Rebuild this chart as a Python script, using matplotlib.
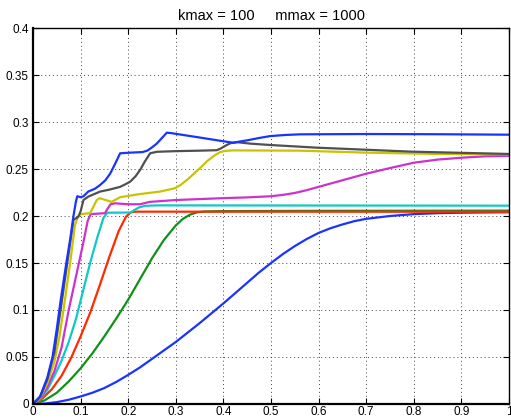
import matplotlib
matplotlib.use('Agg')
import matplotlib.pyplot as plt

plt.rcParams['font.family'] = ['Liberation Sans', 'DejaVu Sans']

# curves, slowest to fastest
x1 = [0, 0.025, 0.05, 0.075, 0.1, 0.125, 0.15, 0.175, 0.2, 0.225, 0.25, 0.275, 0.3, 0.325, 0.35, 0.375, 0.4,
      0.425, 0.45, 0.475, 0.5, 0.525, 0.55, 0.575, 0.6, 0.625, 0.65, 0.675, 0.7, 0.75, 0.8, 0.85, 0.9, 1.0]
y1 = [0, 0.0005, 0.002, 0.0045, 0.008, 0.012, 0.017, 0.0235, 0.031, 0.039, 0.048, 0.057, 0.066, 0.076, 0.086,
      0.0965, 0.107, 0.118, 0.129, 0.14, 0.150, 0.1595, 0.168, 0.1755, 0.182, 0.187, 0.191, 0.1945, 0.197,
      0.200, 0.202, 0.203, 0.2035, 0.204]

x2 = [0, 0.025, 0.05, 0.075, 0.1, 0.125, 0.15, 0.175, 0.2, 0.225, 0.25, 0.275, 0.3, 0.315, 0.33, 0.345, 0.36,
      0.4, 0.6, 1.0]
y2 = [0, 0.004, 0.012, 0.024, 0.038, 0.054, 0.072, 0.091, 0.111, 0.133, 0.155, 0.1745, 0.19, 0.197, 0.2015,
      0.204, 0.2048, 0.2052, 0.2055, 0.2057]

x3 = [0, 0.02, 0.04, 0.06, 0.08, 0.1, 0.12, 0.14, 0.16, 0.18, 0.195, 0.205, 0.215, 0.25, 1.0]
y3 = [0, 0.006, 0.016, 0.03, 0.049, 0.072, 0.097, 0.126, 0.156, 0.184, 0.199, 0.2038, 0.2046, 0.2046, 0.2045]

x4 = [0, 0.015, 0.03, 0.045, 0.06, 0.075, 0.09, 0.105, 0.12, 0.135, 0.148, 0.156, 0.205, 0.212, 0.222, 0.235,
      0.26, 1.0]
y4 = [0, 0.005, 0.015, 0.03, 0.046, 0.066, 0.09, 0.12, 0.15, 0.177, 0.198, 0.2035, 0.2037, 0.206, 0.209,
      0.2108, 0.2113, 0.211]

x5 = [0, 0.015, 0.03, 0.045, 0.06, 0.075, 0.09, 0.105, 0.115, 0.121, 0.151, 0.157, 0.163, 0.172, 0.2, 0.225,
      0.245, 0.3, 0.4, 0.45, 0.5, 0.525, 0.55, 0.575, 0.6, 0.625, 0.65, 0.7, 0.75, 0.8, 0.85, 0.9, 0.95, 1.0]
y5 = [0, 0.006, 0.018, 0.035, 0.06, 0.1, 0.135, 0.17, 0.195, 0.202, 0.203, 0.208, 0.2125, 0.2135, 0.2125,
      0.2125, 0.215, 0.217, 0.219, 0.2198, 0.221, 0.2225, 0.2245, 0.2275, 0.231, 0.2345, 0.238, 0.245, 0.251,
      0.2567, 0.26, 0.262, 0.2635, 0.264]

x6 = [0, 0.015, 0.03, 0.045, 0.055, 0.064, 0.078, 0.088, 0.094, 0.1, 0.12, 0.127, 0.134, 0.14, 0.165, 0.183,
      0.22, 0.267, 0.298, 0.31, 0.325, 0.34, 0.351, 0.365, 0.38, 0.393, 0.405, 0.42, 0.561, 0.7, 0.85, 1.0]
y6 = [0, 0.007, 0.022, 0.045, 0.07, 0.1, 0.15, 0.19, 0.199, 0.202, 0.203, 0.21, 0.217, 0.219, 0.215, 0.22,
      0.223, 0.226, 0.2295, 0.233, 0.239, 0.246, 0.251, 0.258, 0.264, 0.268, 0.2693, 0.2698, 0.2695, 0.2674,
      0.266, 0.2656]

x7 = [0, 0.015, 0.03, 0.045, 0.058, 0.072, 0.085, 0.095, 0.1, 0.106, 0.116, 0.141, 0.16, 0.183, 0.195, 0.204,
      0.215, 0.225, 0.235, 0.246, 0.26, 0.3, 0.35, 0.386, 0.395, 0.405, 0.415, 0.43, 0.456, 0.5, 0.596, 0.7,
      0.792, 0.9, 1.0]
y7 = [0, 0.008, 0.026, 0.055, 0.1, 0.15, 0.196, 0.199, 0.205, 0.217, 0.2206, 0.226, 0.228, 0.231, 0.234,
      0.2365, 0.242, 0.249, 0.258, 0.2667, 0.2683, 0.269, 0.2695, 0.270, 0.272, 0.275, 0.2775, 0.2785, 0.277,
      0.2755, 0.2727, 0.2705, 0.2685, 0.2672, 0.266]

x8 = [0, 0.015, 0.03, 0.041, 0.05, 0.058, 0.07, 0.078, 0.085, 0.09, 0.093, 0.1, 0.106, 0.116, 0.13, 0.141,
      0.152, 0.162, 0.172, 0.183, 0.204, 0.23, 0.24, 0.25, 0.26, 0.27, 0.281, 0.29, 0.35, 0.4, 0.42, 0.45,
      0.475, 0.498, 0.53, 0.561, 0.7, 0.85, 1.0]
y8 = [0, 0.008, 0.028, 0.05, 0.08, 0.11, 0.15, 0.175, 0.2, 0.215, 0.221, 0.22, 0.221, 0.226, 0.229, 0.233,
      0.238, 0.245, 0.255, 0.2667, 0.2674, 0.268, 0.2695, 0.273, 0.277, 0.2825, 0.2886, 0.2882, 0.2835,
      0.2795, 0.278, 0.2805, 0.283, 0.285, 0.2862, 0.2869, 0.2872, 0.287, 0.2865]

xticks = [0, 0.1, 0.2, 0.3, 0.4, 0.5, 0.6, 0.7, 0.8, 0.9, 1]
xlabels = ['0', '0.1', '0.2', '0.3', '0.4', '0.5', '0.6', '0.7', '0.8', '0.9', '1']
yticks = [0, 0.05, 0.1, 0.15, 0.2, 0.25, 0.3, 0.35, 0.4]
ylabels = ['0', '0.05', '0.1', '0.15', '0.2', '0.25', '0.3', '0.35', '0.4']

fig = plt.figure(figsize=(5.11, 4.18), dpi=100)
ax = fig.add_axes([0.0646, 0.0335, 0.9315, 0.8995])

lw = 1.6
ax.plot(x1, y1, color='#1a33ff', lw=lw)
ax.plot(x2, y2, color='#10901a', lw=lw)
ax.plot(x3, y3, color='#ff2a00', lw=lw)
ax.plot(x4, y4, color='#10c8c8', lw=lw)
ax.plot(x5, y5, color='#cc33cc', lw=lw)
ax.plot(x6, y6, color='#c8c400', lw=lw)
ax.plot(x7, y7, color='#505050', lw=lw)
ax.plot(x8, y8, color='#1a33ff', lw=lw)

ax.set_xlim(0, 1)
ax.set_ylim(0, 0.4)
ax.set_xticks(xticks)
ax.set_xticklabels(xlabels)
ax.set_yticks(yticks)
ax.set_yticklabels(ylabels)
ax.tick_params(direction='in', length=4, top=True, right=True, labelsize=8.5, pad=3)
ax.tick_params(axis='x', pad=1.5)
ax.grid(True, color='#444444', linestyle=(0, (1, 3)), linewidth=0.7)

for side in ['left', 'bottom']:
    ax.spines[side].set_linewidth(1.6)
for side in ['top', 'right']:
    ax.spines[side].set_linewidth(1.0)

ax.set_title('kmax = 100     mmax = 1000', fontsize=10.5, pad=6)

plt.savefig('out.png', dpi=100)
